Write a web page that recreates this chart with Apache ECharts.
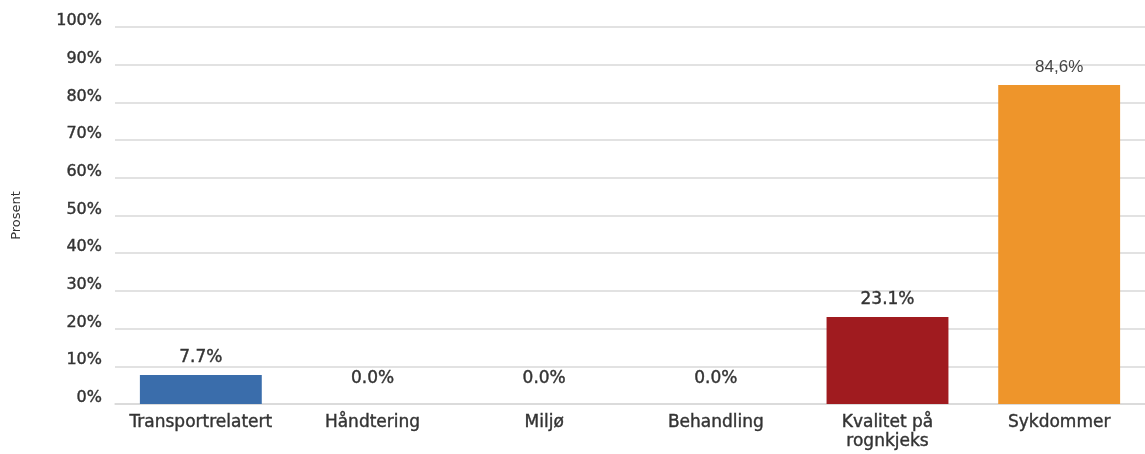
<!DOCTYPE html>
<html>
<head>
<meta charset="utf-8">
<script src="https://cdn.jsdelivr.net/npm/echarts@6/dist/echarts.min.js"></script>
<style>
  html, body { margin: 0; padding: 0; background: #fff; }
  #chart { width: 1145px; height: 454px; }
</style>
</head>
<body>
<div id="chart"></div>
<script>
// kategorier og verdier lest av figuren
const categories = ['Transportrelatert', 'Håndtering', 'Miljø', 'Behandling', 'Kvalitet på\nrognkjeks', 'Sykdommer'];
const values = [7.7, 0.0, 0.0, 0.0, 23.1, 84.6];
const valueLabels = ['7.7%', '0.0%', '0.0%', '0.0%', '23.1%', '84,6%'];
const barColors = ['#3a6dab', '#3a6dab', '#3a6dab', '#3a6dab', '#a01b1f', '#ee952b'];

var myChart = echarts.init(document.getElementById('chart'));

// litt tykkere tekst, som i originalen
var txt = { color: '#333', fontFamily: 'DejaVu Sans', textBorderColor: '#333', textBorderWidth: 0.4 };

var option = {
  animation: false,
  grid: { left: 115, right: -10, top: 27, bottom: 50 },
  xAxis: {
    type: 'category',
    data: categories,
    axisLine: { lineStyle: { color: '#d9d9d9', width: 1.5 } },
    axisTick: { show: false },
    axisLabel: Object.assign({}, txt, { interval: 0, hideOverlap: false, fontSize: 17, lineHeight: 19, margin: 9 })
  },
  yAxis: {
    type: 'value',
    min: 0,
    max: 100,
    interval: 10,
    name: 'Prosent',
    nameLocation: 'middle',
    nameRotate: 90,
    nameGap: 92,
    nameTextStyle: { color: '#333', fontFamily: 'DejaVu Sans', fontSize: 13 },
    axisLabel: Object.assign({}, txt, {
      formatter: '{value}%',
      fontSize: 16,
      margin: 13,
      verticalAlign: 'bottom',
      lineHeight: 12
    }),
    splitLine: { lineStyle: { color: '#d9d9d9', width: 1.5 } }
  },
  series: [
    {
      type: 'bar',
      barWidth: '71%',
      data: values.map((v, i) => ({
        value: v,
        itemStyle: { color: barColors[i] },
        // 84,6% er satt med en annen skrift i originalen
        label: i === 5
          ? { distance: 9, fontFamily: 'Liberation Sans', fontSize: 17, color: '#444', textBorderWidth: 0 }
          : { distance: v === 0 ? 17 : 9 }
      })),
      label: Object.assign({}, txt, {
        show: true,
        position: 'top',
        fontSize: 17,
        formatter: p => valueLabels[p.dataIndex]
      })
    }
  ]
};
myChart.setOption(option);
</script>
</body>
</html>
